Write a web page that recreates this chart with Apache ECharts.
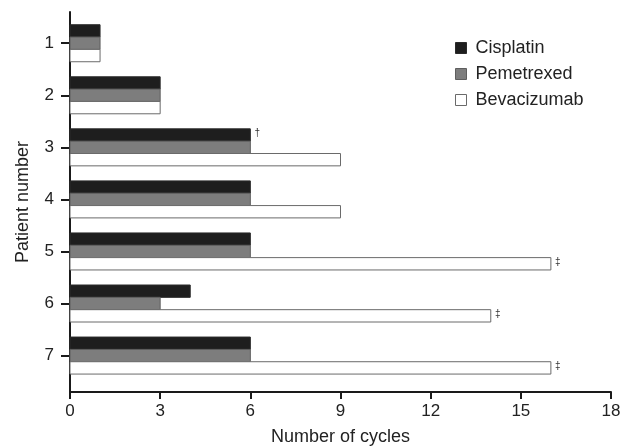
<!DOCTYPE html>
<html>
<head>
<meta charset="utf-8">
<script src="https://cdn.jsdelivr.net/npm/echarts@6/dist/echarts.min.js"></script>
<style>
html,body{margin:0;padding:0;background:#fff;}
#chart{width:622px;height:448px;}
</style>
</head>
<body>
<div id="chart"></div>
<script>
var patients = [1, 2, 3, 4, 5, 6, 7];
var patientLabels = ['1', '2', '3', '4', '5', '6', '7'];
var seriesNames = ['Cisplatin', 'Pemetrexed', 'Bevacizumab'];
var cisplatin = [1, 3, 6, 6, 6, 4, 6];
var pemetrexed = [1, 3, 6, 6, 6, 3, 6];
var bevacizumab = [1, 3, 9, 9, 16, 14, 16];
var cisplatinMarks = ['', '', '\u2020', '', '', '', ''];
var pemetrexedMarks = ['', '', '', '', '', '', ''];
var bevacizumabMarks = ['', '', '', '', '\u2021', '\u2021', '\u2021'];
var xTicks = [0, 3, 6, 9, 12, 15, 18];

var FONT = '"Liberation Sans", Arial, Helvetica, sans-serif';
var fills = ['#1e1e1e', '#7d7d7d', '#ffffff'];
var strokes = ['#2a2a2a', '#5e5e5e', '#6a6a6a'];
var BAR_FRAC = 0.237;

function makeRender(idx, marks) {
  return function (params, api) {
    var v = api.value(0), p = api.value(1);
    var unit = api.size([0, 1])[1];
    var h = BAR_FRAC * unit;
    var c0 = api.coord([0, p]);
    var c1 = api.coord([v, p]);
    var y = c0[1] + (idx - 1) * h - h / 2;
    var children = [{
      type: 'rect',
      shape: { x: c0[0], y: y, width: c1[0] - c0[0], height: h },
      style: { fill: fills[idx], stroke: strokes[idx], lineWidth: 1 }
    }];
    var m = marks[params.dataIndex];
    if (m) {
      children.push({
        type: 'text',
        style: {
          text: m, x: c1[0] + 7, y: y + h / 2 - 2,
          align: 'center', verticalAlign: 'middle',
          fontSize: 10, fontFamily: FONT, fill: '#333'
        }
      });
    }
    return { type: 'group', children: children };
  };
}

function buildData(vals) {
  return vals.map(function (v, i) { return [v, patients[i]]; });
}

var allVals = [cisplatin, pemetrexed, bevacizumab];
var allMarks = [cisplatinMarks, pemetrexedMarks, bevacizumabMarks];

var chart = echarts.init(document.getElementById('chart'), null, { renderer: 'canvas' });
chart.setOption({
  animation: false,
  backgroundColor: '#ffffff',
  textStyle: { fontFamily: FONT },
  grid: { left: 70, right: 11, top: 12, bottom: 56, containLabel: false, outerBoundsMode: 'none' },
  legend: {
    orient: 'vertical',
    left: 450,
    top: 34,
    itemWidth: 11,
    itemHeight: 11,
    itemGap: 8,
    selectedMode: false,
    textStyle: { fontSize: 18, fontFamily: FONT, color: '#222', padding: [0, 0, 0, 4] },
    data: seriesNames.map(function (n, i) {
      return { name: n, icon: 'rect', itemStyle: { color: fills[i], borderColor: strokes[i], borderWidth: 1 } };
    })
  },
  xAxis: {
    type: 'value',
    min: 0,
    max: 18,
    interval: 3,
    name: 'Number of cycles',
    nameLocation: 'middle',
    nameGap: 36,
    nameTextStyle: { fontSize: 18, fontFamily: FONT, color: '#222' },
    axisLine: { show: true, lineStyle: { color: '#1a1a1a', width: 2 } },
    axisTick: { show: true, length: 7, lineStyle: { color: '#1a1a1a', width: 2 } },
    axisLabel: { fontSize: 17, fontFamily: FONT, color: '#222', margin: 11,
      formatter: function (v) { return xTicks.indexOf(v) >= 0 ? String(v) : ''; } },
    splitLine: { show: false }
  },
  yAxis: {
    type: 'value',
    inverse: true,
    min: 0.4,
    max: 7.7,
    name: 'Patient number',
    nameLocation: 'middle',
    nameGap: 38,
    nameTextStyle: { fontSize: 18, fontFamily: FONT, color: '#222' },
    axisLine: { show: true, lineStyle: { color: '#1a1a1a', width: 2 } },
    axisTick: { show: true, length: 9, customValues: patients, lineStyle: { color: '#1a1a1a', width: 2 } },
    axisLabel: { fontSize: 17, fontFamily: FONT, color: '#222', margin: 16, customValues: patients,
      formatter: function (v) { var i = patients.indexOf(v); return i >= 0 ? patientLabels[i] : ''; } },
    splitLine: { show: false }
  },
  series: seriesNames.map(function (n, i) {
    return {
      type: 'custom',
      name: n,
      itemStyle: { color: fills[i], borderColor: strokes[i] },
      encode: { x: 0, y: 1 },
      data: buildData(allVals[i]),
      renderItem: makeRender(i, allMarks[i])
    };
  })
});
</script>
</body>
</html>
